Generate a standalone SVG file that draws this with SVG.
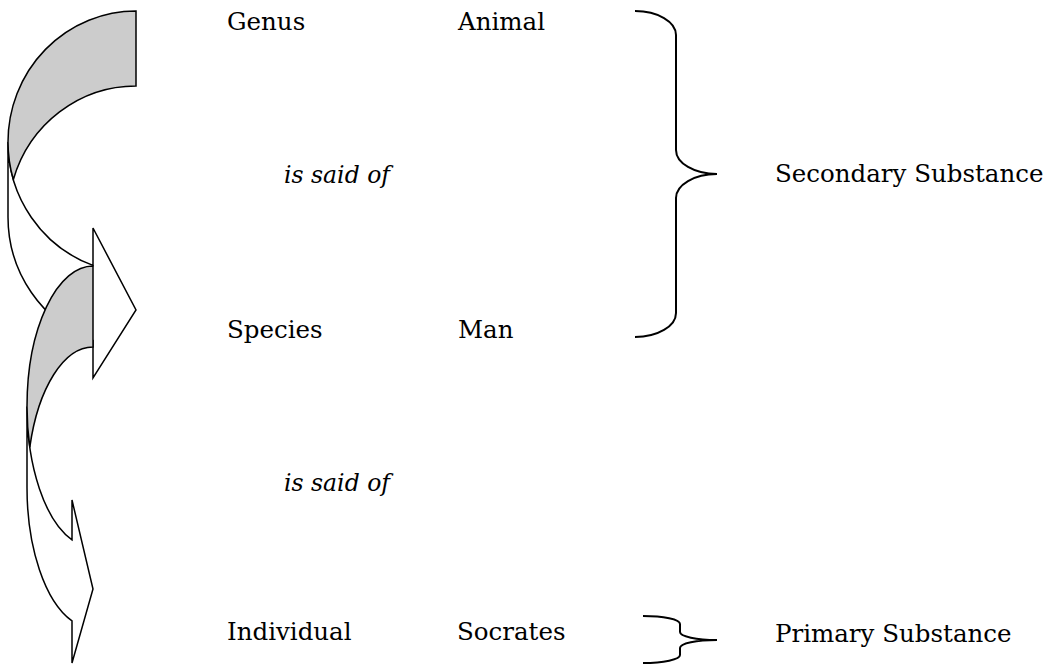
<svg xmlns="http://www.w3.org/2000/svg" width="1050" height="665" viewBox="0 0 1050 665">
<style>
.t{font-family:"DejaVu Serif","Liberation Serif",serif;font-size:24.5px;fill:#000}
.i{font-style:italic;font-size:23.5px}
.back{fill:#cccccc;stroke:#000;stroke-width:1.5;stroke-linejoin:miter}
.front{fill:#fff;stroke:#000;stroke-width:1.5;stroke-linejoin:miter}
.brace{fill:none;stroke:#000;stroke-width:2}
</style>
<rect width="1050" height="665" fill="#fff"/>
<g id="connectors">
  <g id="arrow1">
    <path class="front" d="M 8,142 A 128 131 0 0 0 93,265.4 L 93,228 L 136,310 L 93,378 L 93,340.4 A 128 131 0 0 1 8,217 Z"/>
    <path class="back" d="M 136,11 A 128 131 0 0 0 8,142 A 128 131 0 0 0 13.36,179.5 A 128 131 0 0 1 136,86 Z"/>
  </g>
  <g id="arrow2">
    <path class="front" d="M 27,406.6 A 66 140.6 0 0 0 72,539.9 L 72,500 L 93,589 L 72,663 L 72,620.9 A 66 140.6 0 0 1 27,487.6 Z"/>
    <path class="back" d="M 93,266 A 66 140.6 0 0 0 27,406.6 A 66 140.6 0 0 0 29.8,447.1 A 66 140.6 0 0 1 93,347 Z"/>
  </g>
  <path id="brace-secondary" class="brace" d="M 635,11 A 41 24 0 0 1 676,35 L 676,150 A 41 24 0 0 0 717,174 A 41 24 0 0 0 676,198 L 676,313 A 41 24 0 0 1 635,337"/>
  <path id="brace-primary" class="brace" d="M 643,616 A 37 8 0 0 1 680,624 L 680,632 A 37 8 0 0 0 717,640 A 37 8 0 0 0 680,648 L 680,655 A 37 8 0 0 1 643,663"/>
</g>
<g id="genus"><text class="t" x="227" y="30">Genus</text></g>
<g id="animal"><text class="t" x="458" y="30">Animal</text></g>
<g id="said1"><text class="t i" x="284" y="183">is said of</text></g>
<g id="secondary"><text class="t" x="775" y="182">Secondary Substance</text></g>
<g id="species"><text class="t" x="227" y="338">Species</text></g>
<g id="man"><text class="t" x="458" y="338">Man</text></g>
<g id="said2"><text class="t i" x="284" y="491">is said of</text></g>
<g id="individual"><text class="t" x="227" y="640">Individual</text></g>
<g id="socrates"><text class="t" x="457" y="640">Socrates</text></g>
<g id="primary"><text class="t" x="775" y="642">Primary Substance</text></g>
</svg>
